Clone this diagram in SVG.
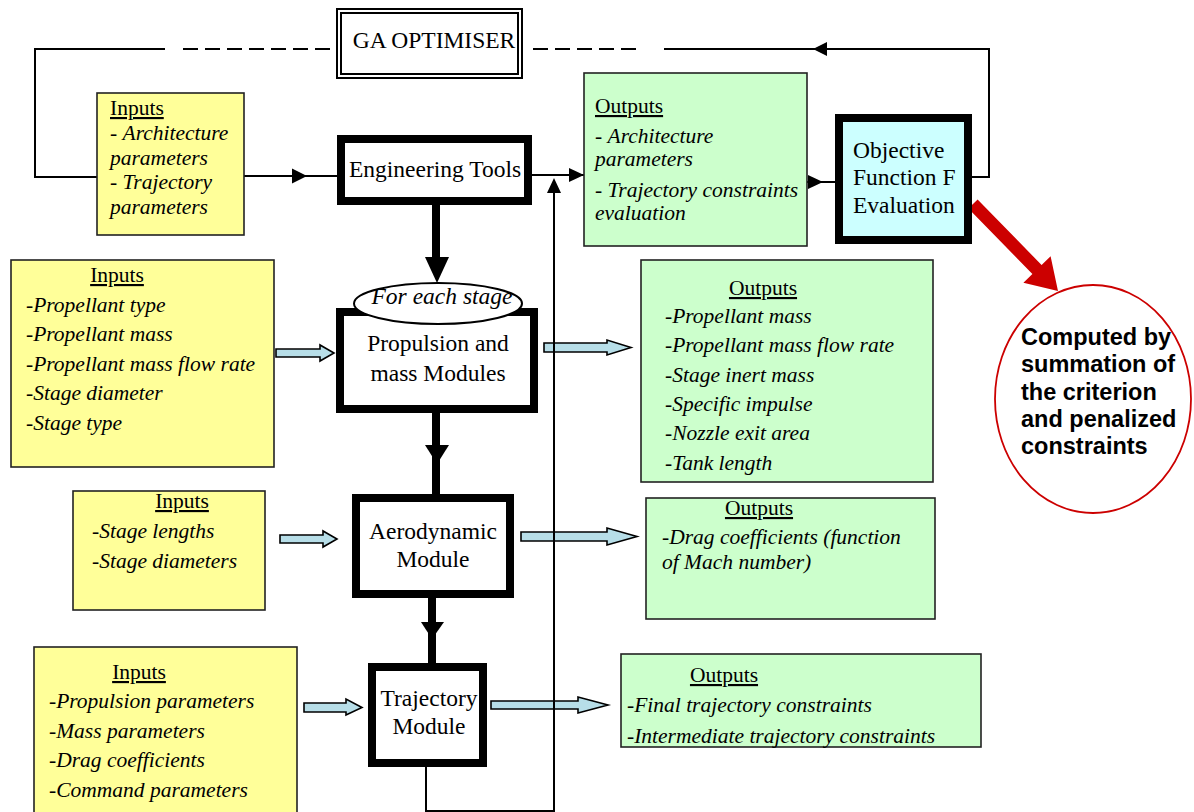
<svg xmlns="http://www.w3.org/2000/svg" width="1194" height="812" viewBox="0 0 1194 812">
<style>
.serif{font-family:"Liberation Serif","Times New Roman",serif;fill:#000}
.lbl{font-size:23.5px}
.it{font-size:21.5px;font-style:italic}
.hd{font-size:21.5px;text-decoration:underline}
.in{fill:#FFFF99;stroke:#222;stroke-width:1.6}
.out{fill:#CCFFCC;stroke:#222;stroke-width:1.6}
.mod{fill:#fff;stroke:#000;stroke-width:8}
.thin{fill:none;stroke:#000;stroke-width:2}
.thick{fill:none;stroke:#000;stroke-width:8}
.head{fill:#000}
.barrow{fill:#B7DEE8;stroke:#000;stroke-width:1.6}
.bold{font-family:"Liberation Sans",Arial,sans-serif;font-weight:bold;font-size:23.5px;fill:#000}
</style>
<rect width="1194" height="812" fill="#fff"/>

<g id="connectors">
  <path class="thin" d="M97,177 H35 V49 H165"/>
  <path class="thin" d="M183,49 H337" stroke-dasharray="15 7"/>
  <path class="thin" d="M971,177 H989 V49 H664"/>
  <polygon class="head" points="813,49 827,42 827,56"/>
  <path class="thin" d="M533,49 H640" stroke-dasharray="15 7"/>
  <path class="thin" d="M244,176 H337"/>
  <polygon class="head" points="292,168.5 292,183.5 307,176"/>
  <path class="thin" d="M531,175 H584"/>
  <polygon class="head" points="569,168 569,182 584,175"/>
  <path class="thin" d="M807,182 H836"/>
  <polygon class="head" points="808,175 808,189 823,182"/>
  <path class="thick" d="M436,205 V262"/>
  <polygon class="head" points="425,257 449,257 437,283"/>
  <path class="thick" d="M436,413 V494"/>
  <polygon class="head" points="425,445 449,445 437,464"/>
  <path class="thick" d="M432,598 V663"/>
  <polygon class="head" points="421,622 444,622 432,639"/>
  <polygon class="barrow" points="276,349 320,349 320,345 334,353 320,361 320,357 276,357"/>
  <polygon class="barrow" points="544,343 607,343 607,340 631,347.5 607,355 607,352 544,352"/>
  <polygon class="barrow" points="280,535 323,535 323,531 337,539 323,547 323,543 280,543"/>
  <polygon class="barrow" points="521,532 607,532 607,528 637,536.5 607,545 607,541 521,541"/>
  <polygon class="barrow" points="304,703 346,703 346,699 362,707.5 346,715 346,712 304,712"/>
  <polygon class="barrow" points="491,701 578,701 578,697 608,705 578,713 578,709 491,709"/>
  <path class="thin" d="M426,767 V811 H554 V190"/>
  <polygon class="head" points="547,193 561,193 554,178"/>
  <polygon fill="#CC0000" points="977.6,199.5 1041.6,265 1050.6,256.2 1058,291 1023.4,282.8 1032.4,274 968.4,208.5"/>
</g>

<g id="ga-optimiser">
  <rect x="337" y="9" width="185" height="69" fill="#fff" stroke="#000" stroke-width="2"/>
  <rect x="341" y="13" width="177" height="61" fill="none" stroke="#000" stroke-width="2"/>
  <text class="serif lbl" x="434" y="48" text-anchor="middle">GA OPTIMISER</text>
</g>

<g id="inputs-top">
  <rect class="in" x="97" y="93" width="147" height="142"/>
  <text class="serif hd" x="110" y="115">Inputs</text>
  <text class="serif it" x="110" y="140"><tspan font-style="normal">- </tspan>Architecture</text>
  <text class="serif it" x="110" y="164.5">parameters</text>
  <text class="serif it" x="110" y="189"><tspan font-style="normal">- </tspan>Trajectory</text>
  <text class="serif it" x="110" y="213.5">parameters</text>
</g>

<g id="engineering-tools">
  <rect class="mod" x="341" y="139" width="187" height="62"/>
  <text class="serif lbl" x="435" y="177" text-anchor="middle">Engineering Tools</text>
</g>

<g id="outputs-top">
  <rect class="out" x="584" y="73" width="223" height="173"/>
  <text class="serif hd" x="595" y="113">Outputs</text>
  <text class="serif it" x="595" y="143"><tspan font-style="normal">- </tspan>Architecture</text>
  <text class="serif it" x="595" y="166">parameters</text>
  <text class="serif it" x="595" y="197"><tspan font-style="normal">- </tspan>Trajectory constraints</text>
  <text class="serif it" x="595" y="220">evaluation</text>
</g>

<g id="objective">
  <rect x="839" y="118" width="129" height="122" fill="#CCFFFF" stroke="#000" stroke-width="8"/>
  <text class="serif lbl" x="853" y="158">Objective</text>
  <text class="serif lbl" x="853" y="185">Function F</text>
  <text class="serif lbl" x="853" y="213">Evaluation</text>
</g>

<g id="computed-note">
  <ellipse cx="1093" cy="399" rx="98" ry="114" fill="#fff" stroke="#CC0000" stroke-width="1.8"/>
  <text class="bold" x="1021" y="345">Computed by</text>
  <text class="bold" x="1021" y="372">summation of</text>
  <text class="bold" x="1021" y="399.5">the criterion</text>
  <text class="bold" x="1021" y="427">and penalized</text>
  <text class="bold" x="1021" y="454">constraints</text>
</g>

<g id="inputs-propulsion">
  <rect class="in" x="11" y="260" width="263" height="207"/>
  <text class="serif hd" x="117" y="282" text-anchor="middle">Inputs</text>
  <text class="serif it" x="26" y="312"><tspan font-style="normal">-</tspan>Propellant type</text>
  <text class="serif it" x="26" y="341.4"><tspan font-style="normal">-</tspan>Propellant mass</text>
  <text class="serif it" x="26" y="370.8"><tspan font-style="normal">-</tspan>Propellant mass flow rate</text>
  <text class="serif it" x="26" y="400.2"><tspan font-style="normal">-</tspan>Stage diameter</text>
  <text class="serif it" x="26" y="429.6"><tspan font-style="normal">-</tspan>Stage type</text>
</g>

<g id="propulsion">
  <rect class="mod" x="340" y="312" width="194" height="97"/>
  <text class="serif lbl" x="438" y="351" text-anchor="middle">Propulsion and</text>
  <text class="serif lbl" x="438" y="381" text-anchor="middle">mass Modules</text>
</g>

<g id="for-each-stage">
  <ellipse cx="438" cy="303.5" rx="84" ry="20.5" fill="#fff" stroke="#000" stroke-width="2"/>
  <text class="serif lbl" x="442" y="304" text-anchor="middle" font-style="italic">For each stage</text>
</g>

<g id="outputs-propulsion">
  <rect class="out" x="641" y="260" width="292" height="222"/>
  <text class="serif hd" x="763" y="295" text-anchor="middle">Outputs</text>
  <text class="serif it" x="665" y="323"><tspan font-style="normal">-</tspan>Propellant mass</text>
  <text class="serif it" x="665" y="352.3"><tspan font-style="normal">-</tspan>Propellant mass flow rate</text>
  <text class="serif it" x="665" y="381.6"><tspan font-style="normal">-</tspan>Stage inert mass</text>
  <text class="serif it" x="665" y="410.9"><tspan font-style="normal">-</tspan>Specific impulse</text>
  <text class="serif it" x="665" y="440.2"><tspan font-style="normal">-</tspan>Nozzle exit area</text>
  <text class="serif it" x="665" y="469.5"><tspan font-style="normal">-</tspan>Tank length</text>
</g>

<g id="inputs-aero">
  <rect class="in" x="73" y="491" width="192" height="119"/>
  <text class="serif hd" x="182" y="508" text-anchor="middle">Inputs</text>
  <text class="serif it" x="92" y="538"><tspan font-style="normal">-</tspan>Stage lengths</text>
  <text class="serif it" x="92" y="568"><tspan font-style="normal">-</tspan>Stage diameters</text>
</g>

<g id="aerodynamic">
  <rect class="mod" x="356" y="498" width="154" height="96"/>
  <text class="serif lbl" x="433" y="539" text-anchor="middle">Aerodynamic</text>
  <text class="serif lbl" x="433" y="567" text-anchor="middle">Module</text>
</g>

<g id="outputs-aero">
  <rect class="out" x="646" y="498" width="289" height="121"/>
  <text class="serif hd" x="759" y="515" text-anchor="middle">Outputs</text>
  <text class="serif it" x="662" y="544"><tspan font-style="normal">-</tspan>Drag coefficients (function</text>
  <text class="serif it" x="662" y="569">of Mach number)</text>
</g>

<g id="inputs-trajectory">
  <rect class="in" x="34" y="647" width="263" height="168"/>
  <text class="serif hd" x="139" y="679" text-anchor="middle">Inputs</text>
  <text class="serif it" x="49" y="708"><tspan font-style="normal">-</tspan>Propulsion parameters</text>
  <text class="serif it" x="49" y="738"><tspan font-style="normal">-</tspan>Mass parameters</text>
  <text class="serif it" x="49" y="767"><tspan font-style="normal">-</tspan>Drag coefficients</text>
  <text class="serif it" x="49" y="797"><tspan font-style="normal">-</tspan>Command parameters</text>
</g>

<g id="trajectory">
  <rect class="mod" x="372" y="667" width="111" height="96"/>
  <text class="serif lbl" x="429" y="706" text-anchor="middle">Trajectory</text>
  <text class="serif lbl" x="429" y="734" text-anchor="middle">Module</text>
</g>

<g id="outputs-trajectory">
  <rect class="out" x="621" y="654" width="360" height="93"/>
  <text class="serif hd" x="724" y="682" text-anchor="middle">Outputs</text>
  <text class="serif it" x="627" y="712"><tspan font-style="normal">-</tspan>Final trajectory constraints</text>
  <text class="serif it" x="627" y="743"><tspan font-style="normal">-</tspan>Intermediate trajectory constraints</text>
</g>
</svg>
